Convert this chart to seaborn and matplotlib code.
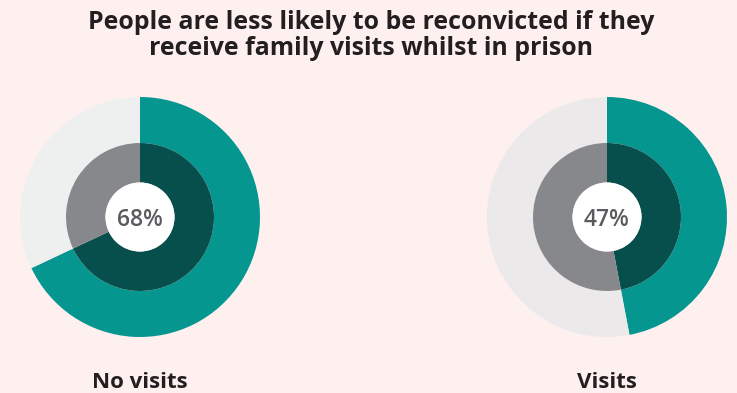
import matplotlib
matplotlib.use("Agg")
import matplotlib.pyplot as plt
from matplotlib.patches import Circle
import seaborn as sns

# Reconviction rates by whether the person received family visits
groups = ["No visits", "Visits"]
reconvicted_pct = [68, 47]
title_lines = ["People are less likely to be reconvicted if they",
               "receive family visits whilst in prison"]

BG = "#FEF0EF"
TEAL = "#069690"
DARK_TEAL = "#074F4D"
GREY = "#87888C"
LIGHT_GREYS = ["#EEF0EF", "#EBE9EA"]
TEXT = "#231F20"
PCT_TEXT = "#5A5B5E"

sns.set_theme(style="white")
plt.rcParams["font.family"] = ["Open Sans", "DejaVu Sans"]

W, H = 737, 393
fig = plt.figure(figsize=(W / 100, H / 100), dpi=100, facecolor=BG)
ax = fig.add_axes([0, 0, 1, 1])
ax.set_xlim(0, W)
ax.set_ylim(0, H)
ax.set_aspect("equal")
ax.axis("off")
ax.set_facecolor(BG)

centers_x = [140, 607]
center_y = H - 217
r_outer, r_mid, r_hole = 120, 74, 34.5

for i, (grp, pct) in enumerate(zip(groups, reconvicted_pct)):
    cx = centers_x[i]
    vals = [pct, 100 - pct]
    ax.pie(vals, radius=r_outer, center=(cx, center_y), startangle=90,
           counterclock=False, colors=[TEAL, LIGHT_GREYS[i]],
           wedgeprops=dict(width=r_outer - r_mid, linewidth=0))
    ax.pie(vals, radius=r_mid, center=(cx, center_y), startangle=90,
           counterclock=False, colors=[DARK_TEAL, GREY],
           wedgeprops=dict(width=r_mid - r_hole, linewidth=0))
    ax.add_patch(Circle((cx, center_y), r_hole, color="white", lw=0, zorder=5))
    ax.text(cx, center_y, f"{pct}%", ha="center", va="center_baseline",
            fontsize=16.5, fontweight="semibold", color=PCT_TEXT, zorder=6)
    ax.text(cx, H - 388, grp, ha="center", va="baseline",
            fontsize=16, fontweight="bold", color=TEXT)

ax.set_xlim(0, W)
ax.set_ylim(0, H)

# Title: two bold centred lines, sized so the first line spans ~568 px
title_x = 371 / W
t1 = fig.text(title_x, 1 - 29 / H, title_lines[0], ha="center", va="baseline",
              fontsize=16, fontweight="bold", color=TEXT)
t2 = fig.text(title_x, 1 - 55 / H, title_lines[1], ha="center", va="baseline",
              fontsize=16, fontweight="bold", color=TEXT)
renderer = fig.canvas.get_renderer()
w1 = t1.get_window_extent(renderer).width
size = 16 * 568 / w1
t1.set_fontsize(size)
t2.set_fontsize(size)

fig.savefig("out.png", dpi=100, facecolor=BG)
